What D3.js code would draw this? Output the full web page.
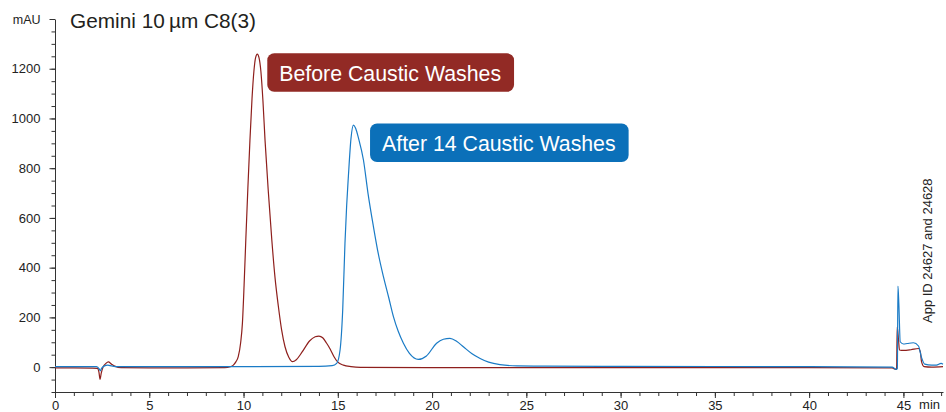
<!DOCTYPE html>
<html>
<head>
<meta charset="utf-8">
<script src="https://cdn.jsdelivr.net/npm/d3@7"></script>
<style>
  body { margin: 0; background: #fff; }
  svg { display: block; font-family: "Liberation Sans", Arial, sans-serif; }
  .c-axis path, .c-axis line { stroke: #333; }
  .c-axis text { fill: #222; font-size: 13px; }
</style>
</head>
<body>
<div id="chromChart"></div>
<script>
// retention time (min) / absorbance (mAU)
const beforeTime = [0, 1, 2, 2.25, 2.33, 2.39, 2.45, 2.55, 2.7, 2.83, 3.0, 3.2, 3.5, 5, 7, 9, 9.3, 9.46, 9.6, 9.72, 9.85, 9.94, 10.03, 10.12, 10.23, 10.34, 10.45, 10.55, 10.64, 10.73, 10.82, 10.92, 11.03, 11.14, 11.32, 11.5, 11.67, 11.85, 12.02, 12.2, 12.4, 12.6, 12.8, 13.1, 13.5, 13.8, 14.0, 14.2, 14.4, 14.6, 14.8, 15.0, 15.3, 15.7, 16.2, 20, 30, 40, 44.4, 44.6, 44.64, 44.67, 44.74, 44.79, 45.0, 45.4, 45.8, 45.9, 45.96, 46.1, 46.5, 47.1];
const beforeMAU = [-3, -3, -4, -5, -20, -49, -25, 0, 15, 21, 12, 3, -2, -3, -3, -2, 2, 8, 22, 42, 100, 176, 330, 511, 720, 913, 1080, 1190, 1245, 1259, 1245, 1190, 1070, 913, 700, 511, 360, 243, 150, 82, 40, 22, 30, 60, 105, 122, 125, 118, 97, 72, 42, 20, 8, 2, -1, -2, -2, -2, -3, -9, -8, 162, 110, 69, 67, 70, 75, 60, 22, 2, 0, 2];

const afterTime = [0, 2.2, 2.35, 2.4, 2.47, 2.6, 2.8, 3.0, 3.3, 10, 14, 14.7, 14.94, 15.12, 15.26, 15.38, 15.47, 15.56, 15.7, 15.83, 15.95, 16.1, 16.36, 16.6, 16.89, 17.15, 17.42, 17.7, 17.95, 18.2, 18.48, 18.8, 19.27, 19.7, 20.24, 20.6, 20.95, 21.3, 21.66, 22.1, 22.55, 23.0, 23.6, 24.5, 26, 30, 40, 44.4, 44.62, 44.68, 44.71, 44.76, 44.83, 45.0, 45.2, 45.53, 45.8, 45.96, 46.13, 46.5, 46.75, 47.0, 47.1];
const afterMAU = [2, 2, -8, -15, -5, 4, 8, 5, 2, 2, 3, 6, 15, 69, 230, 498, 650, 766, 920, 973, 960, 920, 833, 700, 565, 455, 364, 280, 203, 145, 96, 55, 31, 45, 96, 112, 116, 104, 82, 55, 35, 20, 10, 5, 4, 3, 2, 0, -9, -5, 326, 250, 102, 93, 95, 98, 85, 39, 12, 8, 8, 15, 12];

const seriesNames = ['Before Caustic Washes', 'After 14 Caustic Washes'];
const seriesColors = ['#8e1f1c', '#1a7bc6'];
const boxColors = ['#922a25', '#0b70b9'];
// label anchor (top-left corner of each label box) in data units
const labelTime = [11.26, 16.71];
const labelMAU = [1262, 980];

const xMajorTicks = [0, 5, 10, 15, 20, 25, 30, 35, 40, 45];
const yMajorTicks = [0, 200, 400, 600, 800, 1000, 1200];

class ChromatogramChart {
  constructor() {
    this.chartContainer = d3.select('#chromChart');
    this.chartWidth = 946;
    this.chartHeight = 412;
    this.timeScale = null;
    this.mauScale = null;
  }

  render() {
    this.createSvg();
    this.initScales();
    this.drawAxes();
    this.drawLines();
    this.drawLabels();
  }

  createSvg() {
    this.chart = this.chartContainer
      .append('svg')
      .attr('width', this.chartWidth)
      .attr('height', this.chartHeight);
  }

  initScales() {
    this.timeScale = d3.scaleLinear().domain([0, 47.1]).range([55, 943]);
    this.mauScale = d3.scaleLinear().domain([-100, 1400]).range([392, 19]);
  }

  drawAxes() {
    let x = this.timeScale, y = this.mauScale;

    // minor ticks first, then labelled major ticks on top
    this.chart.append('g')
      .attr('class', 'c-axis')
      .attr('transform', 'translate(0,' + y(-100) + ')')
      .call(d3.axisBottom(x).tickValues(d3.range(0, 48, 1)).tickSize(4).tickFormat('').tickSizeOuter(0));
    let xAxis = this.chart.append('g')
      .attr('class', 'c-axis')
      .attr('transform', 'translate(0,' + y(-100) + ')')
      .call(d3.axisBottom(x).tickValues(xMajorTicks).tickSize(6).tickPadding(3).tickSizeOuter(0));
    xAxis.select('.domain').remove();

    this.chart.append('g')
      .attr('class', 'c-axis')
      .attr('transform', 'translate(' + x(0) + ',0)')
      .call(d3.axisLeft(y).tickValues(d3.range(-100, 1401, 50)).tickSize(3.5).tickFormat('').tickSizeOuter(0));
    let yAxis = this.chart.append('g')
      .attr('class', 'c-axis')
      .attr('transform', 'translate(' + x(0) + ',0)')
      .call(d3.axisLeft(y).tickValues(yMajorTicks.concat([1400])).tickSize(5.5).tickPadding(9)
        .tickFormat(d => d === 1400 ? 'mAU' : d));
    yAxis.select('.domain').remove();
    yAxis.selectAll('.tick text').filter(d => d === 1400).style('font-size', '12.5px');

    this.chart.append('text')
      .attr('x', 940)
      .attr('y', 409)
      .attr('text-anchor', 'end')
      .attr('fill', '#222')
      .style('font-size', '13px')
      .text('min');

    this.chart.append('text')
      .attr('x', 70)
      .attr('y', 27.5)
      .attr('fill', '#231f20')
      .style('font-size', '20.8px')
      .text('Gemini 10\u2009\u00b5m C8(3)');

    this.chart.append('text')
      .attr('transform', 'translate(932,323) rotate(-90)')
      .attr('fill', '#222')
      .style('font-size', '13px')
      .text('App ID 24627 and 24628');
  }

  drawLines() {
    let line = d3.line()
      .x(d => this.timeScale(d[0]))
      .y(d => this.mauScale(d[1]))
      .curve(d3.curveMonotoneX);

    let series = [
      d3.zip(beforeTime, beforeMAU),
      d3.zip(afterTime, afterMAU)
    ];

    this.chart.append('g')
      .attr('class', 'c-line')
      .selectAll('path')
      .data(series)
      .join('path')
      .attr('d', line)
      .attr('fill', 'none')
      .attr('stroke', (d, i) => seriesColors[i])
      .attr('stroke-width', 1.2);
  }

  drawLabels() {
    seriesNames.forEach((name, i) => {
      let g = this.chart.append('g')
        .attr('transform', 'translate(' + this.timeScale(labelTime[i]) + ',' + this.mauScale(labelMAU[i]) + ')');
      let rect = g.append('rect')
        .attr('rx', 7)
        .attr('ry', 7)
        .attr('height', 38.5)
        .attr('fill', boxColors[i]);
      let label = g.append('text')
        .attr('x', 12)
        .attr('y', 27.5)
        .attr('fill', '#fff')
        .style('font-size', '21.3px')
        .text(name);
      rect.attr('width', label.node().getComputedTextLength() + 25);
    });
  }
}

new ChromatogramChart().render();
</script>
</body>
</html>
